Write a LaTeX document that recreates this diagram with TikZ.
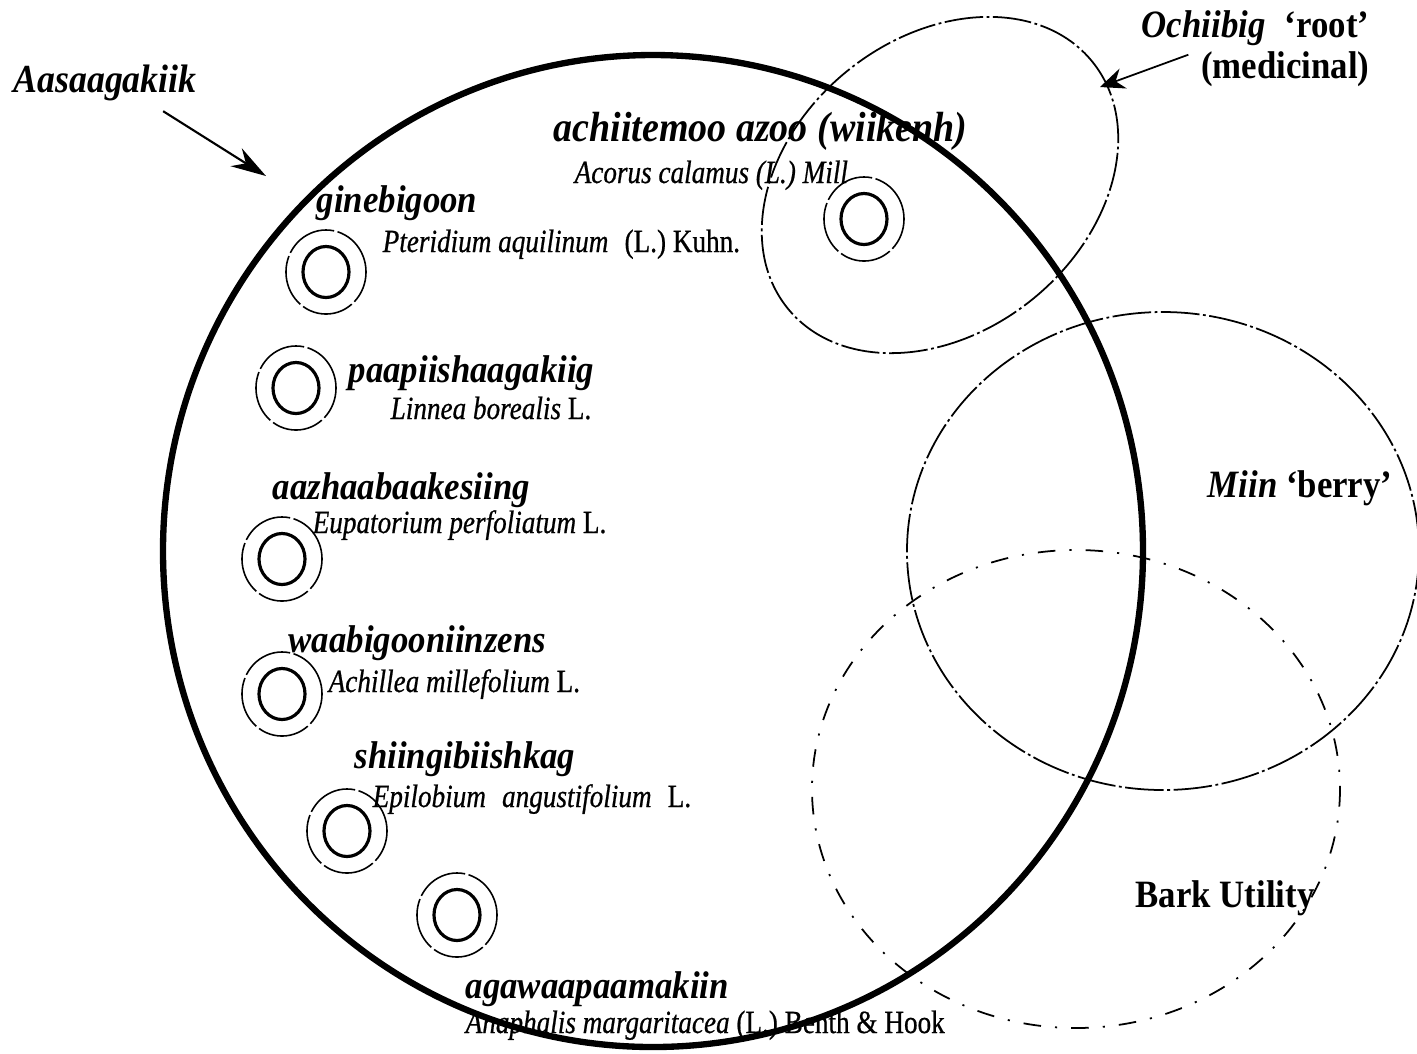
\documentclass[tikz,border=0pt]{standalone}
\usepackage{fontspec}
\setmainfont{Liberation Serif}[FakeStretch=0.9]
\newfontfamily\scifont{Liberation Serif}[FakeStretch=0.84,FakeBold=0.6]
\usepackage{tikz}
\usetikzlibrary{calc,shapes,arrows.meta}
\tikzstyle{rim}=[draw=black,line width=1.8pt]
\tikzstyle{usering}=[draw=black,line width=0.5pt,dash pattern=on 11pt off 1pt on 0.8pt off 1pt]
\tikzstyle{barkring}=[draw=black,line width=0.5pt,dash pattern=on 5pt off 4pt on 0.6pt off 4pt]
\tikzstyle{innerring}=[ellipse,draw=black,line width=0.9pt,inner sep=0pt,
                      minimum width=0.46cm,minimum height=0.51cm]
\tikzstyle{outerring}=[ellipse,draw=black,line width=0.45pt,inner sep=0pt,
                      dash pattern=on 15pt off 1pt,minimum width=0.80cm,minimum height=0.84cm]
\tikzstyle{plantname}=[anchor=base west,inner sep=0pt,
                      font=\fontsize{11}{13}\selectfont\bfseries\itshape]
\tikzstyle{sciname}=[anchor=base west,inner sep=0pt,font=\fontsize{9.2}{11}\scifont]
\tikzstyle{usename}=[anchor=base west,inner sep=0pt,font=\fontsize{11}{13}\selectfont\bfseries]
\tikzstyle{pointer}=[line width=0.6pt,-{Stealth[length=10pt,width=6pt]}]
\newcommand\plantmark[2]{\node[innerring] (#1) at (#2) {};
    \node[outerring] (#1ring) at (#1) {};}

\begin{document}
\begin{tikzpicture}[x=0.01cm,y=-0.01cm]
    \useasboundingbox (0,0) rectangle (1417,1053);

    \draw[rim] (653,551) ellipse [x radius=490, y radius=496];
    \draw[usering,rotate around={39:(940,185)}] (940,185) ellipse [x radius=196, y radius=147];
    \draw[usering] (1163,551) ellipse [x radius=256, y radius=239];
    \draw[barkring] (1076,789) ellipse [x radius=264, y radius=239];

    \plantmark{markginebigoon}{326,272}
    \plantmark{markpaapiish}{296,388}
    \plantmark{markaazhaa}{282,559}
    \plantmark{markwaabigoon}{282,694}
    \plantmark{markshiingi}{347,831}
    \plantmark{markagawaa}{457,915}
    \plantmark{markachiite}{864,219}

    \node[usename,font=\fontsize{11.3}{13}\selectfont\bfseries\itshape] (aasaagakiik) at (13,92) {Aasaagakiik};
    \coordinate (aasatip) at (266,176);
    \draw[pointer] ([shift={(58,10)}]aasaagakiik.south) -- (aasatip);

    \node[plantname,font=\fontsize{12}{14}\selectfont\bfseries\itshape] (achiitemoo) at (553,141) {achiitemoo azoo (wiikenh)};
    \node[sciname] (acorus) at (574,183) {\itshape Acorus calamus (L.) Mill};
    \node[sciname] (pteridium) at (382,252) {\textit{Pteridium aquilinum}\enspace(L.) Kuhn.};
    \node[plantname] (ginebigoon) at (316,212) {ginebigoon};
    \node[plantname] (paapiish) at (348,382) {paapiishaagakiig};
    \node[sciname] (linnea) at (390,419) {\textit{Linnea borealis} L.};
    \node[plantname] (aazhaa) at (272,499) {aazhaabaakesiing};
    \node[sciname] (eupatorium) at (312,533) {\textit{Eupatorium perfoliatum} L.};
    \node[plantname] (waabigoon) at (288,652) {waabigooniinzens};
    \node[sciname] (achillea) at (328,692) {\textit{Achillea millefolium} L.};
    \node[plantname] (shiingi) at (354,768) {shiingibiishkag};
    \node[sciname] (epilobium) at (372,807) {\textit{Epilobium\enspace angustifolium}\enspace L.};
    \node[plantname] (agawaa) at (465,998) {agawaapaamakiin};
    \node[sciname] (anaphalis) at (465,1033) {\textit{Anaphalis margaritacea} (L.) Benth \& Hook};

    \node[usename] (ochiibig) at (1141,37) {\textit{Ochiibig}\enspace ‘root’};
    \node[usename,anchor=base east] (medicinal) at (1370,78) {(medicinal)};
    \coordinate (roottip) at (1100,87);
    \draw[pointer,line width=0.5pt,-{Stealth[length=7pt,width=6pt]}] ([shift={(-12,-14)}]medicinal.west) -- (roottip);

    \node[usename] (miin) at (1207,497) {\textit{Miin} ‘berry’};
    \node[usename] (bark) at (1135,907) {Bark Utility};
\end{tikzpicture}
\end{document}
